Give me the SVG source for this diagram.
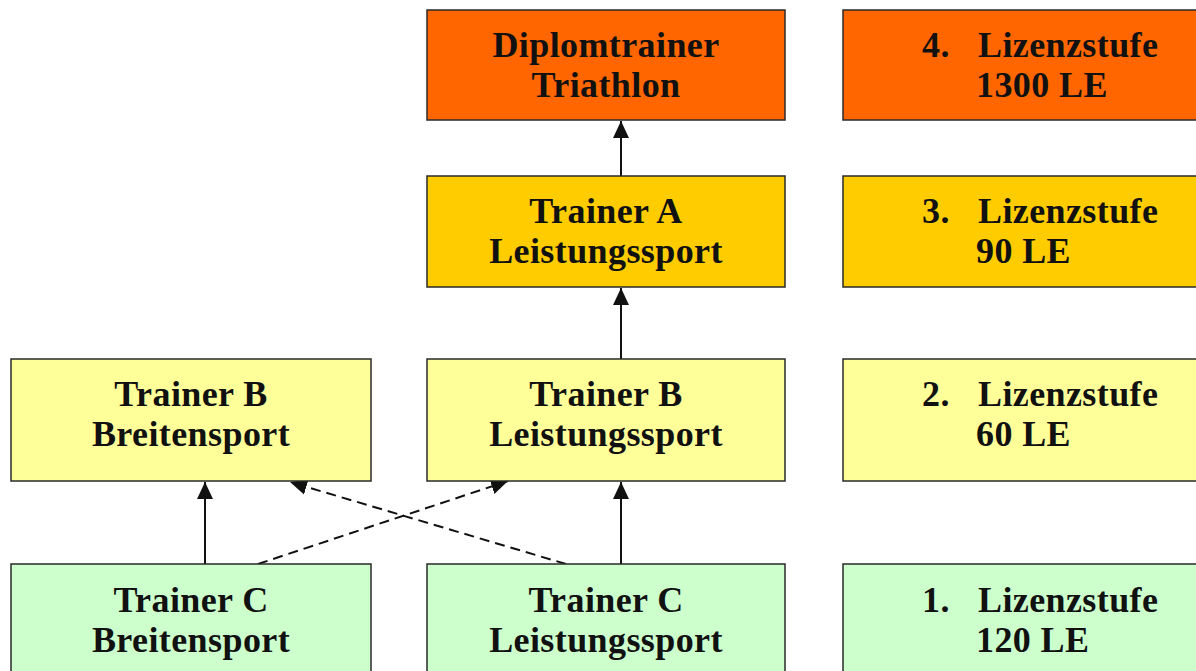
<svg xmlns="http://www.w3.org/2000/svg" width="1196" height="671" viewBox="0 0 1196 671">
<style>
.box{stroke:#2a2a2a;stroke-width:1.5}
.o{fill:#FF6600}.g{fill:#FFCC00}.y{fill:#FFFF99}.gr{fill:#CCFFCC}
text{font-family:"Liberation Serif","Times New Roman",serif;font-weight:bold;font-size:36px;fill:#111;letter-spacing:0.4px}
.c{text-anchor:middle}
.ln{stroke:#111;stroke-width:2;fill:none}
.d{stroke-dasharray:10,6}
</style>
<defs>
<marker id="ah" markerUnits="userSpaceOnUse" markerWidth="20" markerHeight="20" viewBox="0 0 20 20" refX="17" refY="10" orient="auto">
<path d="M0,2 L17,10 L0,18 Z" fill="#111"/>
</marker>
</defs>
<g id="connectors">
<line class="ln" x1="621" y1="176" x2="621" y2="121" marker-end="url(#ah)"/>
<line class="ln" x1="621" y1="359" x2="621" y2="288" marker-end="url(#ah)"/>
<line class="ln" x1="621" y1="564" x2="621" y2="482" marker-end="url(#ah)"/>
<line class="ln" x1="205" y1="564" x2="205" y2="482" marker-end="url(#ah)"/>
<line class="ln d" x1="258" y1="564" x2="508" y2="481" marker-end="url(#ah)"/>
<line class="ln d" x1="566" y1="564" x2="290" y2="482" marker-end="url(#ah)"/>
</g>
<g id="diplom"><rect class="box o" x="427" y="10" width="358" height="110"/><text class="c" x="606" y="57">Diplomtrainer</text><text class="c" x="606" y="97">Triathlon</text></g>
<g id="stufe4"><rect class="box o" x="843" y="10" width="360" height="110"/><text x="922" y="57">4.</text><text x="978" y="57">Lizenzstufe</text><text x="976" y="97">1300 LE</text></g>
<g id="trainerA"><rect class="box g" x="427" y="176" width="358" height="111"/><text class="c" x="606" y="223">Trainer A</text><text class="c" x="606" y="263">Leistungssport</text></g>
<g id="stufe3"><rect class="box g" x="843" y="176" width="360" height="111"/><text x="922" y="223">3.</text><text x="978" y="223">Lizenzstufe</text><text x="976" y="263">90 LE</text></g>
<g id="trainerBB"><rect class="box y" x="11" y="359" width="360" height="122"/><text class="c" x="191" y="406">Trainer B</text><text class="c" x="191" y="446">Breitensport</text></g>
<g id="trainerBL"><rect class="box y" x="427" y="359" width="358" height="122"/><text class="c" x="606" y="406">Trainer B</text><text class="c" x="606" y="446">Leistungssport</text></g>
<g id="stufe2"><rect class="box y" x="843" y="359" width="360" height="122"/><text x="922" y="406">2.</text><text x="978" y="406">Lizenzstufe</text><text x="976" y="446">60 LE</text></g>
<g id="trainerCB"><rect class="box gr" x="11" y="564" width="360" height="120"/><text class="c" x="191" y="612">Trainer C</text><text class="c" x="191" y="652">Breitensport</text></g>
<g id="trainerCL"><rect class="box gr" x="427" y="564" width="358" height="120"/><text class="c" x="606" y="612">Trainer C</text><text class="c" x="606" y="652">Leistungssport</text></g>
<g id="stufe1"><rect class="box gr" x="843" y="564" width="360" height="120"/><text x="922" y="612">1.</text><text x="978" y="612">Lizenzstufe</text><text x="976" y="652">120 LE</text></g>
</svg>
